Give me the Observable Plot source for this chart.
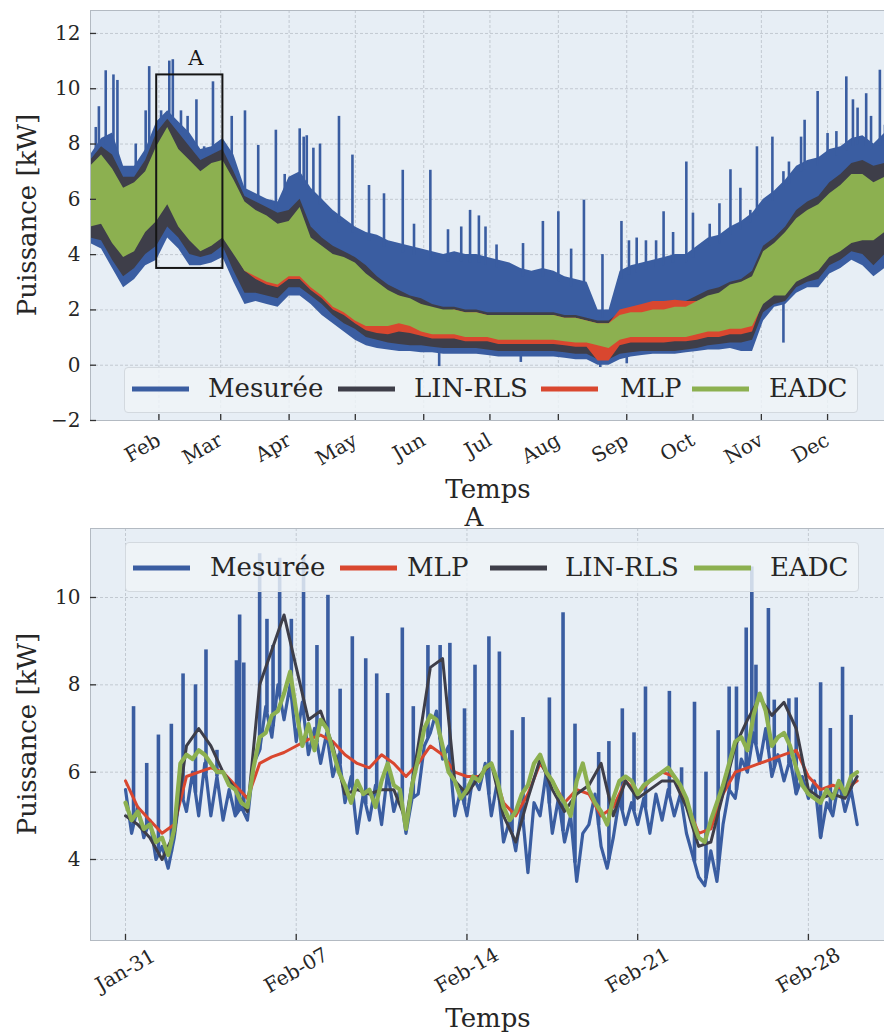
<!DOCTYPE html>
<html><head><meta charset="utf-8">
<script src="https://cdn.jsdelivr.net/npm/d3@7"></script>
<script src="https://cdn.jsdelivr.net/npm/@observablehq/plot@0.6"></script>
<style>
body{margin:0;background:#fff;}
#page{position:relative;width:884px;height:1032px;overflow:hidden;font-family:'DejaVu Serif',serif;color:#262626;}
.abs{position:absolute;white-space:nowrap;line-height:1;}
.lbl{font-size:26px;transform:translate(-50%,-50%);}
.ylbl{font-size:26px;transform:translate(-50%,-50%) rotate(-90deg);}
.leg{position:absolute;background:rgba(239,244,248,0.82);border:1px solid #d3d9df;border-radius:4px;box-sizing:border-box;}
.sw{position:absolute;height:5px;transform:translateY(-50%);}
.lt{position:absolute;font-size:26px;line-height:1;white-space:nowrap;transform:translateY(-52%);}
svg{position:absolute;left:0;}
</style></head><body><div id="page"></div>
<script>
// ================= DATA : top panel (whole year, 5-day samples from 2018-01-01) =================
const topStart = "2018-01-01";
const topStepDays = 5;
const mesTop = [7.6,8.2,8.4,7.2,7.2,7.8,8.8,9.2,8.8,8.4, 7.8,7.9,8.2,7.6,6.4,6.2,6.0,5.9,6.8,7.0, 6.4,6.0,5.6,5.3,5.0,4.8,4.7,4.5,4.4,4.3, 4.2,4.1,4.0,4.1,4.0,4.0,3.9,3.8,3.7,3.5, 3.4,3.5,3.4,3.2,3.1,3.0,2.0,2.0,3.4,3.6, 3.7,3.8,3.9,4.0,4.0,4.3,4.6,4.7,5.0,5.2, 5.5,6.0,6.3,6.7,7.2,7.4,7.5,7.8,7.9,8.2, 8.3,8.0,8.4];
const mesBot = [4.4,4.2,3.5,2.8,3.1,3.6,3.8,4.6,4.2,3.6, 3.6,3.7,3.9,3.0,2.2,2.3,2.2,2.1,2.5,2.5, 2.2,1.8,1.5,1.2,0.9,0.7,0.6,0.55,0.5,0.5, 0.45,0.45,0.4,0.4,0.4,0.4,0.35,0.3,0.3,0.3, 0.3,0.3,0.3,0.25,0.2,0.2,0.0,0.0,0.2,0.3, 0.35,0.4,0.4,0.4,0.45,0.5,0.55,0.55,0.6,0.5, 0.5,1.6,2.1,2.2,2.6,2.8,2.8,3.3,3.5,3.8, 3.6,3.2,3.5];
const linTop = [7.4,7.9,7.6,6.8,6.8,7.4,8.4,8.9,8.4,7.9, 7.4,7.6,7.8,7.0,6.1,5.9,5.7,5.5,5.6,6.0, 5.0,4.6,4.3,4.1,3.9,3.6,3.2,2.9,2.7,2.5, 2.4,2.2,2.1,2.1,2.0,2.0,1.9,1.9,1.9,1.9, 1.9,1.9,1.9,1.8,1.8,1.7,1.6,1.6,1.9,2.0, 2.1,2.2,2.2,2.3,2.3,2.5,2.7,2.8,3.0,3.1, 3.4,4.3,4.6,5.0,5.6,5.9,6.1,6.6,6.9,7.3, 7.4,7.2,7.3];
const linBot = [4.6,4.5,3.8,3.2,3.5,4.0,4.3,5.0,4.6,4.0, 3.9,4.0,4.3,3.4,2.6,2.6,2.5,2.4,2.8,2.8, 2.5,2.2,1.8,1.5,1.3,1.0,0.9,0.8,0.75,0.7, 0.7,0.65,0.6,0.6,0.6,0.6,0.55,0.5,0.5,0.5, 0.5,0.5,0.5,0.45,0.4,0.4,0.2,0.2,0.4,0.45, 0.5,0.5,0.5,0.5,0.55,0.6,0.7,0.75,0.8,0.8, 0.9,1.9,2.2,2.3,2.8,3.0,3.1,3.6,3.8,4.1, 4.0,3.6,4.0];
const mlpTop = [7.0,7.3,6.9,6.2,6.3,6.8,7.6,8.2,7.6,7.2, 6.8,7.0,7.1,6.5,5.7,5.5,5.2,5.0,5.0,5.5, 4.5,4.1,3.8,3.6,3.4,3.1,2.8,2.6,2.5,2.3, 2.2,2.0,1.9,2.0,1.9,1.9,1.8,1.8,1.8,1.8, 1.8,1.8,1.8,1.7,1.7,1.6,1.5,1.5,2.0,2.1, 2.2,2.3,2.3,2.35,2.3,2.3,2.45,2.55,2.8,2.9, 3.1,4.0,4.3,4.6,5.1,5.4,5.6,6.0,6.3,6.7, 6.8,6.5,6.6];
const mlpBot = [5.1,5.2,4.5,4.0,4.2,4.9,5.3,5.9,5.1,4.6, 4.2,4.4,4.7,4.1,3.4,3.1,2.9,2.8,3.1,3.1, 2.7,2.4,2.0,1.8,1.5,1.25,1.15,1.1,1.2,1.15, 1.05,0.95,0.95,0.95,0.85,0.85,0.85,0.75,0.75,0.75, 0.75,0.75,0.75,0.7,0.65,0.65,0.15,0.15,0.7,0.8, 0.8,0.8,0.8,0.85,0.85,0.9,1.0,1.0,1.1,1.1, 1.2,2.3,2.6,2.6,3.1,3.3,3.5,4.0,4.2,4.5, 4.6,4.6,4.9];
const eadcTop = [7.2,7.6,7.1,6.4,6.6,7.0,7.9,8.6,7.8,7.4, 7.0,7.3,7.4,6.7,5.9,5.6,5.4,5.1,5.2,5.7, 4.6,4.3,4.0,3.9,3.7,3.3,3.0,2.7,2.5,2.4, 2.2,2.1,2.0,2.0,1.9,1.9,1.8,1.8,1.8,1.8, 1.8,1.8,1.8,1.7,1.7,1.6,1.5,1.5,1.8,1.9, 1.9,2.0,2.0,2.1,2.1,2.3,2.5,2.6,2.9,3.0, 3.2,4.1,4.4,4.8,5.3,5.6,5.8,6.2,6.5,6.9, 6.9,6.6,6.8];
const eadcBot = [5.0,5.1,4.4,3.9,4.1,4.8,5.2,5.8,5.0,4.5, 4.1,4.3,4.6,4.0,3.4,3.2,3.0,2.9,3.2,3.2, 2.8,2.5,2.1,1.9,1.6,1.4,1.4,1.4,1.5,1.4, 1.2,1.1,1.1,1.1,1.0,1.0,1.0,0.9,0.9,0.9, 0.9,0.9,0.9,0.85,0.8,0.8,0.7,0.6,0.9,1.0, 1.0,1.0,1.0,1.0,1.0,1.1,1.2,1.2,1.3,1.3, 1.4,2.2,2.5,2.5,3.0,3.2,3.4,3.9,4.1,4.4, 4.5,4.5,4.8];
// measured peaks / dips: [day of year, kW]
const topSpikes = [[2.4,8.6],[3.8,9.35],[6.9,10.65],[10.4,10.5],[12.2,10.3],[20.5,8.0],[25,9.2],[26.6,10.8],[32,9.2],[35.7,11.0],[37.3,11.05],[41,9.2],[44,9.0],[48,9.6],[51.5,7.9],[55.5,10.25],[64,9.0],[70,9.2],[76,7.95],[84,8.5],[88,6.9],[94.8,8.55],[96.6,8.25],[98,8.3],[101,7.85],[104,8.0],[112.6,9.0],[118.7,7.6],[126.2,6.5],[133,6.2],[141.5,7.05],[146.6,5.1],[154,7.05],[162,4.9],[168,5.0],[172,5.6],[176,5.4],[179,5.0],[184,4.35],[196,4.4],[205,5.2],[212,5.55],[217.8,4.2],[223.6,5.97],[232,4.0],[240.6,5.2],[244,4.5],[247.5,4.6],[251.7,4.5],[256.3,4.5],[259.7,5.55],[264,4.8],[270,7.35],[273,5.5],[280.6,5.1],[285,5.84],[290,7.07],[294.5,6.4],[299,5.6],[302,7.9],[309,8.25],[314,7.0],[316.5,7.35],[322,8.25],[323.6,8.86],[329.5,9.9],[334,8.38],[338,8.45],[342.5,10.43],[345.5,9.6],[347.6,9.3],[351.5,9.82],[353.7,9.0],[357.7,10.67],[360,8.68],
  [158,-0.05],[195,0.1],[231,-0.1],[243,0.05],[314,0.8]];
const boxA = {start:"2018-01-31", end:"2018-03-02", lo:3.5, hi:10.5, labelY:11.1, label:"A"};
const topTicks = ["2018-02-01","2018-03-01","2018-04-01","2018-05-01","2018-06-01","2018-07-01","2018-08-01","2018-09-01","2018-10-01","2018-11-01","2018-12-01"];
const topTickLabels = ["Feb","Mar","Apr","May","Jun","Jul","Aug","Sep","Oct","Nov","Dec"];
const topYTicks = [-2,0,2,4,6,8,10,12];

// ================= DATA : bottom panel (zoom A, from 2018-01-31) =================
const botStart = "2018-01-31";
const botStepMes = 0.25;   // days
const mesBase = [5.6,4.6,5.2,4.5,4.9,4.0,4.3,3.8,4.5,5.6,5.1,6.0, 5.0,6.2,5.0,5.9,4.9,5.6,5.0,5.2,4.9,6.2,6.5,7.5, 6.8,8.0,7.2,8.0,6.7,7.6,6.4,7.0,6.2,6.9,5.9,6.4, 5.3,5.9,4.6,5.5,4.9,5.7,4.8,6.0,5.1,5.6,4.6,5.4, 5.5,6.6,6.9,7.4,6.3,6.6,5.0,5.6,5.0,5.9,5.6,6.2, 5.0,5.8,4.4,4.9,4.2,5.2,3.7,5.3,5.0,6.0,4.6,5.4, 4.4,5.0,3.5,4.6,4.8,5.5,4.3,3.8,4.5,5.4,4.8,5.3, 4.8,5.4,4.6,5.5,4.9,5.6,5.0,5.5,4.6,4.1,3.6,3.4, 4.2,3.5,4.8,5.6,5.4,6.3,6.0,6.9,6.2,7.0,5.9,6.4, 5.8,6.3,5.5,5.9,5.4,5.8,4.5,5.3,5.0,5.8,5.1,5.6, 4.8];
const eadcA = [5.3,4.9,5.1,4.7,4.8,4.4,4.5,4.1,4.7,6.2,6.4,6.3, 6.5,6.4,6.2,6.0,6.0,5.7,5.6,5.3,5.2,6.1,6.8,6.9, 7.3,7.4,7.8,8.3,7.4,6.6,7.1,6.5,7.2,7.0,6.5,6.0, 5.7,5.3,5.8,5.5,5.6,5.2,5.8,6.2,5.7,5.6,4.7,5.7, 6.3,7.0,7.3,7.2,6.6,6.0,5.8,5.4,5.6,5.9,5.8,6.1, 6.2,5.8,5.2,4.9,5.1,5.5,5.7,6.2,6.4,6.0,5.8,5.5, 5.3,5.0,5.8,6.2,5.6,5.3,5.1,4.8,5.4,5.8,5.9,5.8, 5.5,5.7,5.8,5.9,6.0,6.1,5.9,5.7,5.4,4.9,4.5,4.4, 4.9,5.3,5.7,6.2,6.7,6.8,6.5,7.3,7.8,7.4,6.6,6.8, 6.9,6.6,6.1,5.7,5.5,5.4,5.3,5.6,5.4,5.8,5.5,5.9, 6.0];
const botStepModel = 0.5;  // days
const mlpA = [5.8,5.2,4.9,4.6,4.8,5.9,6.0,6.1,6.0,5.7, 5.4,6.2,6.35,6.45,6.6,6.75,6.85,6.7,6.4,6.2, 6.1,6.4,6.2,5.9,6.2,6.6,6.4,6.0,5.9,5.9, 6.2,5.3,5.0,5.5,6.2,5.8,5.3,5.6,5.5,5.0, 5.2,5.8,5.5,5.8,6.0,5.9,5.3,4.6,4.7,5.5, 6.0,6.1,6.2,6.3,6.4,6.5,5.9,5.6,5.7,5.6, 5.8];
const linA = [5.0,4.8,4.5,4.0,4.6,6.6,7.0,6.6,6.0,5.6, 5.1,8.0,8.8,9.6,8.4,7.2,7.4,6.6,5.5,5.6, 5.5,5.6,5.6,4.9,6.6,8.4,8.6,5.8,5.5,5.9, 6.2,5.0,4.4,5.4,6.3,5.6,5.1,5.5,5.7,6.2, 5.0,5.8,5.4,5.6,5.8,5.8,5.2,4.3,4.4,5.5, 6.6,7.2,7.7,7.3,7.6,7.0,5.6,5.4,5.5,5.4, 5.9];
// measured daily peaks: [days after Jan-31, kW]
const botSpikes = [[0.33,7.5],[0.87,6.2],[1.35,6.85],[1.88,7.1],[2.36,8.25],[2.87,8.0],[3.3,8.8],[3.75,6.5],[4.55,8.55],[4.68,9.6],[4.85,8.5],[5.5,11.0],[5.8,9.5],[6.05,8.9],[6.32,10.9],[6.8,9.5],[7.3,10.9],[7.85,8.9],[8.3,10.05],[8.8,7.9],[9.3,9.1],[9.85,8.6],[10.3,8.25],[10.75,7.8],[11.35,9.3],[11.8,7.5],[12.4,8.9],[12.9,8.9],[13.3,8.95],[13.9,7.45],[14.33,8.45],[14.9,9.1],[15.33,8.75],[15.85,6.95],[16.3,7.25],[17.38,7.7],[17.94,9.65],[18.43,7.1],[19.4,6.45],[19.82,6.7],[20.37,7.45],[20.85,6.9],[21.32,7.95],[22.3,7.85],[22.8,6.1],[23.33,7.6],[23.8,6.0],[24.3,6.95],[24.75,7.95],[25.05,7.95],[25.45,9.3],[25.68,10.7],[25.85,8.45],[26.36,9.75],[26.6,7.65],[27.2,7.68],[27.5,7.7],[28.5,8.05],[28.9,7.0],[29.4,8.4],[29.75,7.3]];
const botTicks = ["2018-01-31","2018-02-07","2018-02-14","2018-02-21","2018-02-28"];
const botTickLabels = ["Jan-31","Feb-07","Feb-14","Feb-21","Feb-28"];
const botYTicks = [4,6,8,10];

const topLegend = [["Mesurée","mes"],["LIN-RLS","lin"],["MLP","mlp"],["EADC","eadc"]];
const botLegend = [["Mesurée","mes"],["MLP","mlp"],["LIN-RLS","lin"],["EADC","eadc"]];

// ================= STYLE =================
const COL = {mes:"#3a5da1", lin:"#3e3e49", mlp:"#d9472f", eadc:"#8cb050"};
const BG = "#e7eef5", GRID = "#c2c9d1", FRAME = "#b3bac2";
const DAY = 864e5;
const t0 = new Date(topStart).getTime();
const b0 = new Date(botStart).getTime();
const font = "'DejaVu Serif', serif";

// ================= build tables =================
const topData = mesTop.map((v,i)=>({date:new Date(t0 + i*topStepDays*DAY), mesTop:v, mesBot:mesBot[i], linTop:linTop[i], linBot:linBot[i], mlpTop:mlpTop[i], mlpBot:mlpBot[i], eTop:eadcTop[i], eBot:eadcBot[i]}));
function interp(arr, step, t){ const k=t/step, i=Math.max(0,Math.min(arr.length-2,Math.floor(k))), f=k-i; return arr[i]*(1-f)+arr[i+1]*f; }
const topSpikeData = topSpikes.map(([d,v])=>{ const hi=interp(mesTop,topStepDays,d), lo=interp(mesBot,topStepDays,d); return {date:new Date(t0+d*DAY), v, base: v>hi? hi-0.3 : lo+0.3}; });
const boxData = [{x1:new Date(boxA.start), x2:new Date(boxA.end), y1:boxA.lo, y2:boxA.hi}];
const boxLabel = [{x:new Date((new Date(boxA.start).getTime()+new Date(boxA.end).getTime())/2), y:boxA.labelY, text:boxA.label}];
const topTickDates = topTicks.map(d=>new Date(d));

const botMes = mesBase.map((v,i)=>({date:new Date(b0+i*botStepMes*DAY), v}));
const botE = eadcA.map((v,i)=>({date:new Date(b0+i*botStepMes*DAY), v}));
const botM = mlpA.map((v,i)=>({date:new Date(b0+i*botStepModel*DAY), v}));
const botL = linA.map((v,i)=>({date:new Date(b0+i*botStepModel*DAY), v}));
const botSpikeData = botSpikes.map(([t,v])=>({date:new Date(b0+t*DAY), v, base: interp(mesBase,botStepMes,t)}));
const botTickDates = botTicks.map(d=>new Date(d));

const page = document.getElementById("page");

// ================= top panel =================
const topW = 884, topML = 90, topFrameH = 410;
const topPlot = Plot.plot({
  width: topW, height: 470, marginLeft: topML, marginRight: 0, marginTop: 10, marginBottom: 50,
  style: {fontFamily: font, fontSize: "20px", color: "#262626", background: "transparent", overflow: "visible"},
  x: {type: "utc", domain: [new Date(t0), new Date(t0 + 359.8*DAY)], axis: null},
  y: {domain: [-2, 12.83], axis: null},
  marks: [
    Plot.frame({fill: BG, stroke: "none"}),
    Plot.gridX(topTickDates, {stroke: GRID, strokeOpacity: 1, strokeDasharray: "3,2"}),
    Plot.gridY(topYTicks, {stroke: GRID, strokeOpacity: 1, strokeDasharray: "3,2"}),
    Plot.areaY(topData, {x: "date", y1: "mesBot", y2: "mesTop", fill: COL.mes, clip: true}),
    Plot.ruleX(topSpikeData, {x: "date", y1: "base", y2: "v", stroke: COL.mes, strokeWidth: 2.6, clip: true}),
    Plot.areaY(topData, {x: "date", y1: "linBot", y2: "linTop", fill: COL.lin, clip: true}),
    Plot.areaY(topData, {x: "date", y1: "mlpBot", y2: "mlpTop", fill: COL.mlp, clip: true}),
    Plot.areaY(topData, {x: "date", y1: "eBot", y2: "eTop", fill: COL.eadc, clip: true}),
    Plot.rect(boxData, {x1: "x1", x2: "x2", y1: "y1", y2: "y2", fill: "none", stroke: "#151515", strokeWidth: 2}),
    Plot.text(boxLabel, {x: "x", y: "y", text: "text", fontSize: 21, fill: "#151515", dx: 6}),
    Plot.frame({stroke: FRAME}),
    Plot.ruleX(topTickDates, {insetTop: topFrameH - 6, stroke: "#333", strokeWidth: 1.3}),
    Plot.ruleY(topYTicks, {insetRight: topW - topML - 6, stroke: "#333", strokeWidth: 1.3}),
    Plot.axisY(topYTicks, {tickSize: 0, tickPadding: 10, fontSize: 20, label: null}),
    Plot.text(topTickDates, {x: d => d, frameAnchor: "bottom", text: (d, i) => topTickLabels[i], rotate: -30, textAnchor: "end", lineAnchor: "middle", dy: 18, dx: 0, fontSize: 20, fill: "#262626"})
  ]
});
topPlot.style.top = "0px";
page.appendChild(topPlot);

// ================= bottom panel =================
const botW = 884, botML = 90;
const botPlot = Plot.plot({
  width: botW, height: 482, marginLeft: botML, marginRight: 0, marginTop: 10, marginBottom: 60,
  style: {fontFamily: font, fontSize: "20px", color: "#262626", background: "transparent", overflow: "visible"},
  x: {type: "utc", domain: [new Date(b0 - 1.435*DAY), new Date(b0 + 31.12*DAY)], axis: null},
  y: {domain: [2.145, 11.58], axis: null},
  marks: [
    Plot.frame({fill: BG, stroke: "none"}),
    Plot.gridX(botTickDates, {stroke: GRID, strokeOpacity: 1, strokeDasharray: "3,2"}),
    Plot.gridY(botYTicks, {stroke: GRID, strokeOpacity: 1, strokeDasharray: "3,2"}),
    Plot.line(botMes, {x: "date", y: "v", stroke: COL.mes, strokeWidth: 3.2, clip: true}),
    Plot.ruleX(botSpikeData, {x: "date", y1: "base", y2: "v", stroke: COL.mes, strokeWidth: 3.6, clip: true}),
    Plot.line(botM, {x: "date", y: "v", stroke: COL.mlp, strokeWidth: 3, clip: true}),
    Plot.line(botL, {x: "date", y: "v", stroke: COL.lin, strokeWidth: 3, clip: true}),
    Plot.line(botE, {x: "date", y: "v", stroke: COL.eadc, strokeWidth: 4.2, clip: true}),
    Plot.frame({stroke: FRAME}),
    Plot.ruleX(botTickDates, {insetTop: 412 - 6, stroke: "#333", strokeWidth: 1.3}),
    Plot.ruleY(botYTicks, {insetRight: botW - botML - 6, stroke: "#333", strokeWidth: 1.3}),
    Plot.axisY(botYTicks, {tickSize: 0, tickPadding: 10, fontSize: 20, label: null}),
    Plot.text(botTickDates, {x: d => d, frameAnchor: "bottom", text: (d, i) => botTickLabels[i], rotate: -30, textAnchor: "middle", lineAnchor: "middle", dy: 30, fontSize: 20, fill: "#262626"})
  ]
});
botPlot.style.top = "518px";
page.appendChild(botPlot);

// ================= labels & legends (HTML) =================
function addText(cls, txt, x, y){ const d=document.createElement("div"); d.className="abs "+cls; d.textContent=txt; d.style.left=x+"px"; d.style.top=y+"px"; page.appendChild(d); }
addText("ylbl","Puissance [kW]",27,215);
addText("lbl","Temps",488,489);
addText("lbl","A",474,517);
addText("ylbl","Puissance [kW]",27,734);
addText("lbl","Temps",488,1018);

function legend(items, box, swatchX, textX, cy){
  const b=document.createElement("div"); b.className="leg";
  Object.assign(b.style,{left:box[0]+"px",top:box[1]+"px",width:box[2]+"px",height:box[3]+"px"});
  page.appendChild(b);
  items.forEach(([name,key],i)=>{
    const s=document.createElement("div"); s.className="sw";
    Object.assign(s.style,{left:swatchX[i]+"px",top:cy+"px",width:"57px",background:COL[key]});
    page.appendChild(s);
    const t=document.createElement("div"); t.className="lt"; t.textContent=name;
    Object.assign(t.style,{left:textX[i]+"px",top:cy+"px"});
    page.appendChild(t);
  });
}
legend(topLegend,[124,367,734,46],[132,338,541,692],[208,414,620,769],389);
legend(botLegend,[125,542,734,50],[133,340,490,694],[210,407,565,770],568);
</script></body></html>
